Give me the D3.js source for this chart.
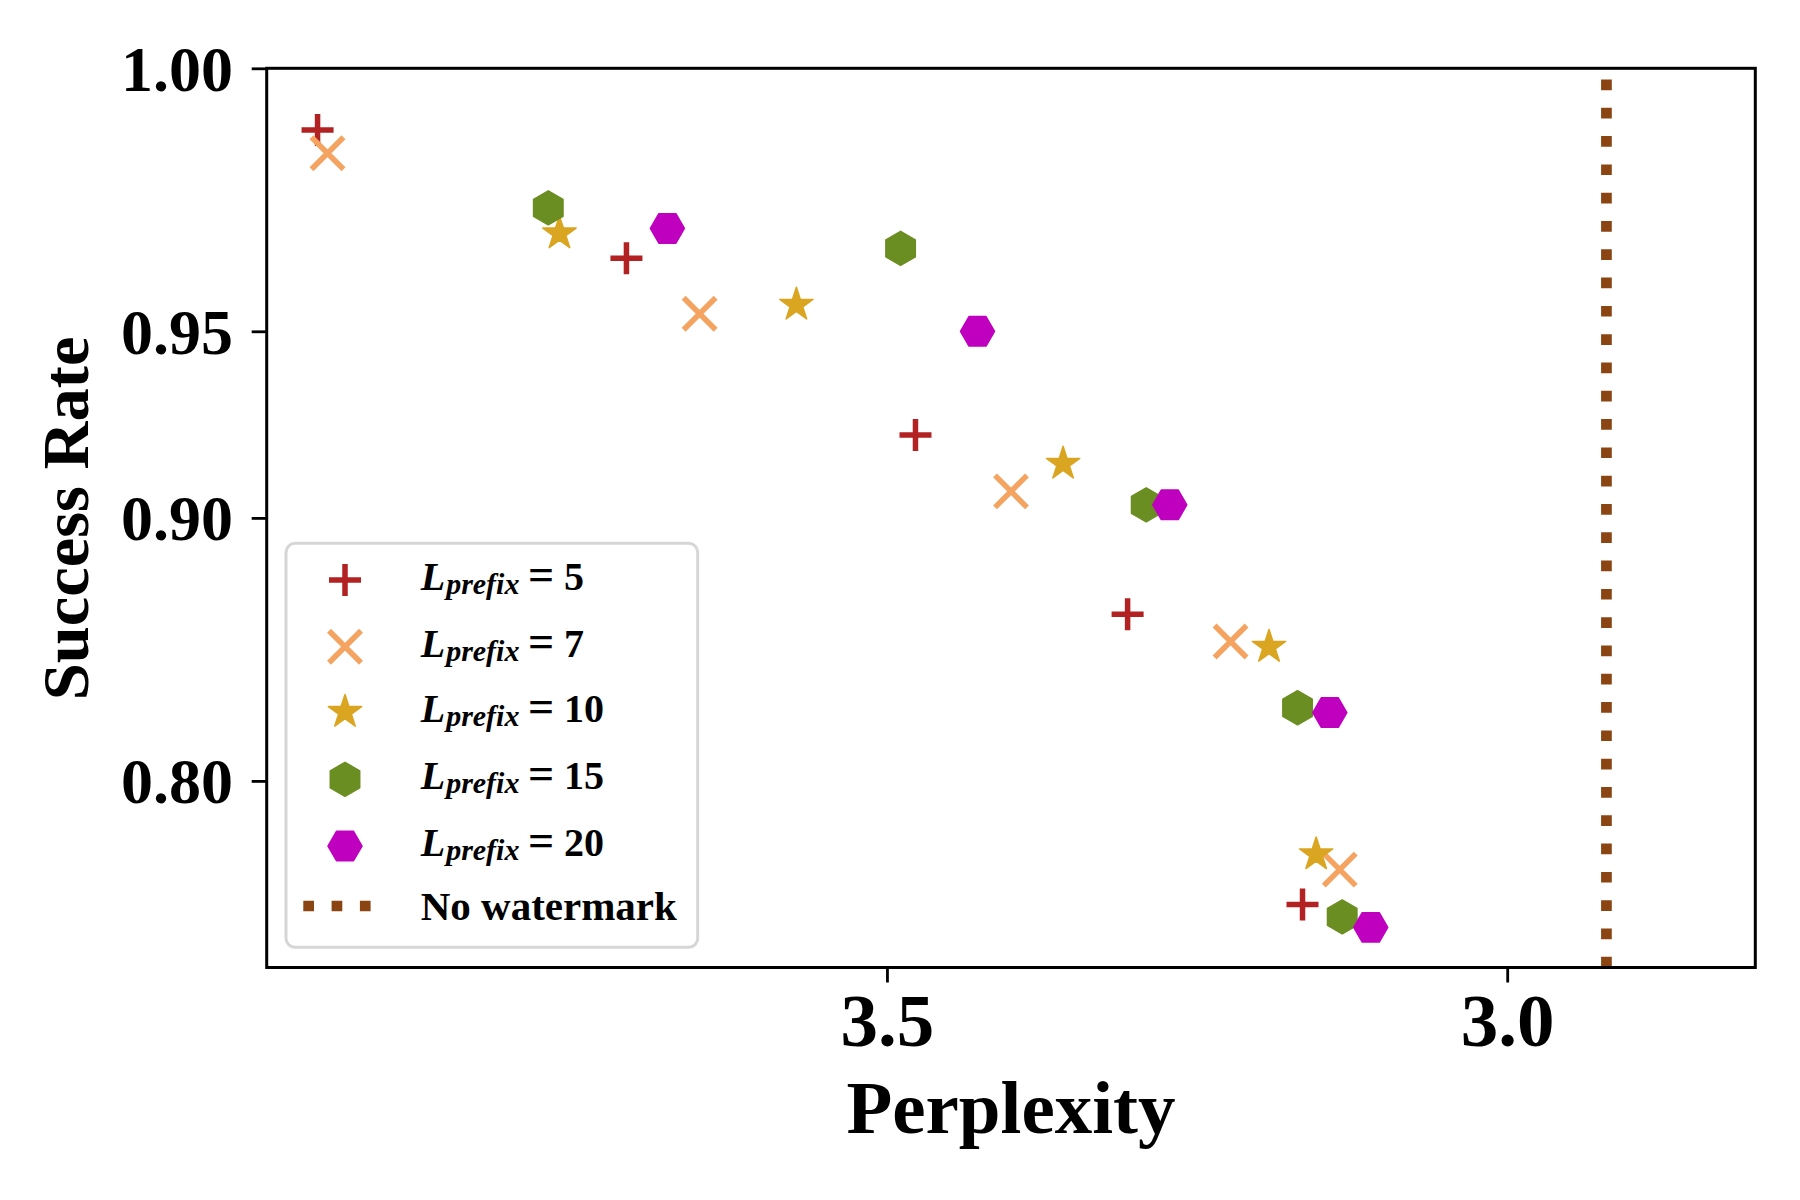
<!DOCTYPE html>
<html>
<head>
<meta charset="utf-8">
<script src="https://cdn.jsdelivr.net/npm/d3@7"></script>
<style>
  body { margin: 0; background: #fff; }
  svg { display: block; }
  text { font-family: "Liberation Serif", "Times New Roman", serif; font-weight: bold; }
</style>
</head>
<body>
<svg id="chart"></svg>
<script>
// Values: perplexity (x) and success rate (y) for each prefix length
const prefixLengths = [5, 7, 10, 15, 20];
const pplL5  = [3.959, 3.710, 3.477, 3.306, 3.165];
const srL5   = [0.990, 0.966, 0.924, 0.868, 0.737];
const pplL7  = [3.951, 3.651, 3.400, 3.223, 3.135];
const srL7   = [0.986, 0.954, 0.908, 0.858, 0.756];
const pplL10 = [3.764, 3.573, 3.358, 3.192, 3.154];
const srL10  = [0.971, 0.956, 0.916, 0.856, 0.764];
const pplL15 = [3.773, 3.489, 3.291, 3.169, 3.133];
const srL15  = [0.976, 0.968, 0.904, 0.832, 0.730];
const pplL20 = [3.677, 3.427, 3.272, 3.143, 3.110];
const srL20  = [0.972, 0.950, 0.904, 0.830, 0.724];
const noWatermarkPpl = 2.92;

const xTicks = [3.5, 3.0];
const yTicks = [1.00, 0.95, 0.90, 0.80];

const W = 1800, H = 1200;
const plotL = 266.7, plotR = 1755.3, plotT = 68.3, plotB = 967.5;

const svg = d3.select("#chart").attr("width", W).attr("height", H);

// x axis runs from high to low perplexity
const x = d3.scaleLinear().domain([4.0, 2.8]).range([plotL, plotR]);
// y axis is log-spaced in (1.1 - rate)
const yLog = d3.scaleLog().domain([0.4, 0.1]).range([plotB, plotT]);
const y = v => yLog(1.1 - v);

// marker shapes
function plusPath(s) { return `M${-s},0H${s}M0,${-s}V${s}`; }
function timesPath(s) { return `M${-s},${-s}L${s},${s}M${-s},${s}L${s},${-s}`; }
function polyPath(r, n, rot) {
  const pts = d3.range(n).map(i => {
    const a = rot + i * 2 * Math.PI / n;
    return [r * Math.cos(a), r * Math.sin(a)];
  });
  return "M" + pts.join("L") + "Z";
}
function starPath(r) {
  const pts = d3.range(10).map(i => {
    const rr = i % 2 ? r * 0.381966 : r;
    const a = -Math.PI / 2 + i * Math.PI / 5;
    return [rr * Math.cos(a), rr * Math.sin(a)];
  });
  return "M" + pts.join("L") + "Z";
}

const series = [
  { label: 5,  ppl: pplL5,  sr: srL5,  color: "#b22222", d: plusPath(16), stroke: true },
  { label: 7,  ppl: pplL7,  sr: srL7,  color: "#f4a460", d: timesPath(16), stroke: true },
  { label: 10, ppl: pplL10, sr: srL10, color: "#daa520", d: starPath(17.5), stroke: false },
  { label: 15, ppl: pplL15, sr: srL15, color: "#6b8e23", d: polyPath(17, 6, -Math.PI / 2), stroke: false },
  { label: 20, ppl: pplL20, sr: srL20, color: "#bf00bf", d: polyPath(17, 6, 0), stroke: false }
];

function styleMarker(sel, s) {
  if (s.stroke) {
    sel.attr("fill", "none").attr("stroke", s.color).attr("stroke-width", 5.5);
  } else {
    sel.attr("fill", s.color).attr("stroke", s.color).attr("stroke-width", 1.5)
      .attr("stroke-linejoin", "round");
  }
}

// axes
const xAxis = d3.axisBottom(x).tickValues(xTicks).tickFormat(d3.format(".1f"))
  .tickSize(15).tickPadding(10.5);
const gx = svg.append("g").attr("transform", `translate(0,${plotB})`).call(xAxis);
gx.select(".domain").remove();
gx.selectAll(".tick line").attr("stroke", "#000").attr("stroke-width", 2.8);
gx.selectAll(".tick text").attr("font-size", 75).attr("fill", "#000")
  .attr("font-family", "Liberation Serif, serif");

const yAxis = d3.axisLeft(yLog).tickValues(yTicks.map(v => 1.1 - v))
  .tickFormat(d => (1.1 - d).toFixed(2)).tickSize(15).tickPadding(18.7);
const gy = svg.append("g").attr("transform", `translate(${plotL},0)`).call(yAxis);
gy.select(".domain").remove();
gy.selectAll(".tick line").attr("stroke", "#000").attr("stroke-width", 2.8);
gy.selectAll(".tick text").attr("font-size", 64).attr("fill", "#000").attr("dy", "0.34em")
  .attr("font-family", "Liberation Serif, serif");

// no-watermark reference line (dash pattern starts at the bottom)
svg.append("line")
  .attr("x1", x(noWatermarkPpl)).attr("x2", x(noWatermarkPpl))
  .attr("y1", plotB).attr("y2", plotT)
  .attr("stroke", "#8b4513").attr("stroke-width", 10.7)
  .attr("stroke-dasharray", "10.7 17.6");

// points
series.forEach(s => {
  svg.append("g").selectAll("path")
    .data(s.ppl.map((p, i) => [p, s.sr[i]]))
    .join("path")
    .attr("transform", d => `translate(${x(d[0])},${y(d[1])})`)
    .attr("d", s.d)
    .call(styleMarker, s);
});

// frame
svg.append("rect")
  .attr("x", plotL).attr("y", plotT)
  .attr("width", plotR - plotL).attr("height", plotB - plotT)
  .attr("fill", "none").attr("stroke", "#000").attr("stroke-width", 3);

// axis titles
svg.append("text").attr("x", (plotL + plotR) / 2).attr("y", 1133)
  .attr("text-anchor", "middle").attr("font-size", 75).text("Perplexity");
svg.append("text")
  .attr("transform", `translate(88,${(plotT + plotB) / 2 + 0.5}) rotate(-90)`)
  .attr("text-anchor", "middle").attr("font-size", 66.5).text("Success Rate");

// legend
const legend = svg.append("g");
legend.append("rect")
  .attr("x", 286).attr("y", 543.3).attr("width", 411.7).attr("height", 404)
  .attr("rx", 9).attr("fill", "#fff").attr("fill-opacity", 0.8)
  .attr("stroke", "#d6d6d6").attr("stroke-width", 3);

const rowY = [580, 646.7, 712, 779.3, 846];
series.forEach((s, i) => {
  legend.append("path")
    .attr("transform", `translate(345,${rowY[i]})`)
    .attr("d", s.d)
    .call(styleMarker, s);
  const t = legend.append("text").attr("x", 420.7).attr("y", rowY[i] + 10).attr("font-size", 40);
  t.append("tspan").attr("font-style", "italic").text("L");
  t.append("tspan").attr("font-style", "italic").attr("font-size", 30)
    .attr("dx", 1).attr("dy", 4).text("prefix");
  t.append("tspan").attr("x", 528).attr("dy", -4).attr("font-size", 46).text("=");
  t.append("tspan").attr("x", 564).text(s.label);
});

legend.append("line")
  .attr("x1", 303.3).attr("x2", 386.7).attr("y1", 906).attr("y2", 906)
  .attr("stroke", "#8b4513").attr("stroke-width", 10.7)
  .attr("stroke-dasharray", "10.7 17.6");
legend.append("text").attr("x", 420.7).attr("y", 920).attr("font-size", 41).text("No watermark");
</script>
</body>
</html>
